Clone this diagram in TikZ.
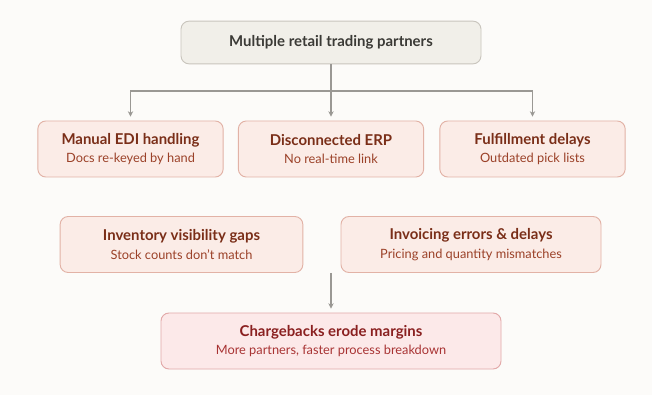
\documentclass[tikz,border=0pt]{standalone}
\usepackage{fontspec}
\setmainfont{Lato}
\usepackage{xcolor}
\usetikzlibrary{arrows.meta, positioning}

\definecolor{paper}{HTML}{FCFBF9}
\definecolor{rootfill}{HTML}{F1EFE9}
\definecolor{rootline}{HTML}{C9C5BD}
\definecolor{rootink}{HTML}{3B3A36}
\definecolor{issuefill}{HTML}{FBECE7}
\definecolor{issueline}{HTML}{E2B2A6}
\definecolor{issueink}{HTML}{7A2E18}
\definecolor{issuesub}{HTML}{9B4128}
\definecolor{lossfill}{HTML}{FCE9E9}
\definecolor{lossline}{HTML}{E2A8A8}
\definecolor{lossink}{HTML}{8A2020}
\definecolor{losssub}{HTML}{A83333}
\definecolor{wire}{HTML}{9A9894}

\begin{document}
\begin{tikzpicture}[
  x=0.75pt, y=-0.75pt,
  root/.style={draw=rootline, fill=rootfill, rounded corners=6pt, line width=0.7pt,
               minimum width=225pt, minimum height=32pt, align=center,
               font=\fontsize{11.2}{13}\selectfont\bfseries, text=rootink},
  issue/.style={draw=issueline, fill=issuefill, rounded corners=6pt, line width=0.7pt,
                minimum width=139pt, minimum height=42pt, align=center,
                font=\fontsize{11.2}{14}\selectfont, text=issueink},
  loss/.style={issue, draw=lossline, fill=lossfill, text=lossink},
  arr/.style={-{Stealth[length=4pt, width=4pt]}, wire, line width=0.9pt},
]
\fill[paper] (0,0) rectangle (652,395);

\node[root] (src) at (331,42.5) {Multiple retail trading partners};

\node[issue] (edi) at (130.5,149)
  {\textbf{Manual EDI handling}\\{\fontsize{9.6}{12}\selectfont\color{issuesub}Docs re-keyed by hand}};
\node[issue] (erp) at (331,149)
  {\textbf{Disconnected ERP}\\{\fontsize{9.6}{12}\selectfont\color{issuesub}No real-time link}};
\node[issue] (ful) at (532.5,149)
  {\textbf{Fulfillment delays}\\{\fontsize{9.6}{12}\selectfont\color{issuesub}Outdated pick lists}};

\node[issue, minimum width=182pt] (inv) at (181.5,244.5)
  {\textbf{Inventory visibility gaps}\\{\fontsize{9.6}{12}\selectfont\color{issuesub}Stock counts don't match}};
\node[issue, minimum width=195pt] (bill) at (471,244.5)
  {\textbf{Invoicing errors \& delays}\\{\fontsize{9.6}{12}\selectfont\color{issuesub}Pricing and quantity mismatches}};

\node[loss, minimum width=255pt] (loss) at (331,341)
  {\textbf{Chargebacks erode margins}\\{\fontsize{9.6}{12}\selectfont\color{losssub}More partners, faster process breakdown}};

% fan-out from the partners
\coordinate (bus) at (331,91);
\draw[wire, line width=0.9pt] (src.south) -- (bus);
\draw[arr, shorten >=3pt] (bus) -| (edi.north);
\draw[arr, shorten >=3pt] (bus) -- (erp.north);
\draw[arr, shorten >=3pt] (bus) -| (ful.north);

\draw[arr, shorten >=3pt] (loss.north |- inv.south) -- (loss.north);
\end{tikzpicture}
\end{document}
